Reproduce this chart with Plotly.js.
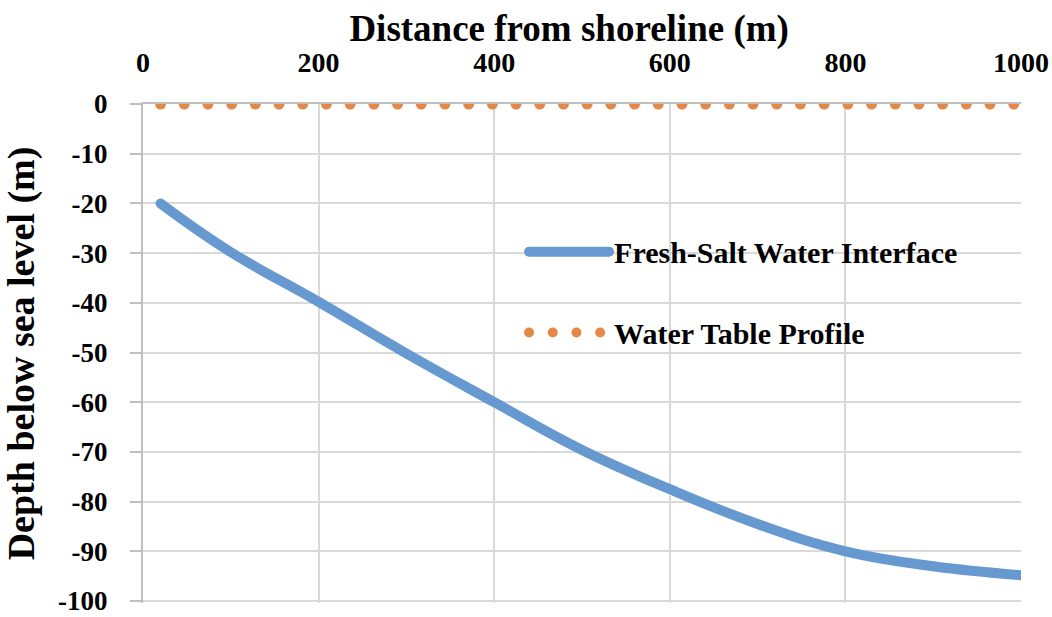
<!DOCTYPE html>
<html>
<head>
<meta charset="utf-8">
<script src="https://cdn.plot.ly/plotly-3.0.1.min.js"></script>
<style>
  html, body { margin: 0; padding: 0; background: #fff; }
  #chart { width: 1052px; height: 617px; }
  path.js-line { stroke-linecap: round; stroke-linejoin: round; }
</style>
</head>
<body>
<div id="chart"></div>
<script>
// Data
const distance = [20, 100, 200, 300, 400, 500, 600, 700, 800, 900, 1000];
const interfaceDepth = [-20, -29.8, -39.8, -50.2, -60, -69.6, -77.5, -84.5, -90, -93, -94.8];
const waterTableDepth = [0, 0, 0, 0, 0, 0, 0, 0, 0, 0, 0];
const seriesNames = ["Fresh-Salt Water Interface", "Water Table Profile"];
const xTicks = [0, 200, 400, 600, 800, 1000];
const yTicks = [0, -10, -20, -30, -40, -50, -60, -70, -80, -90, -100];
const xTitle = "Distance from shoreline (m)";
const yTitle = "Depth below sea level (m)";

const FONT = "Liberation Serif, Times New Roman, serif";

const traces = [
  {
    x: distance, y: interfaceDepth, name: seriesNames[0],
    type: "scatter", mode: "lines",
    line: { color: "#6699D0", width: 10, shape: "spline", smoothing: 1.2 },
    legend: "legend", hoverinfo: "skip"
  },
  {
    x: distance, y: waterTableDepth, name: seriesNames[1],
    type: "scatter", mode: "lines",
    line: { color: "#E38846", width: 11, dash: "0px,23.7px" },
    legend: "legend2", hoverinfo: "skip"
  }
];

const legendFont = { family: FONT, size: 30, color: "#000", weight: "bold" };

const layout = {
  width: 1052, height: 617,
  margin: { l: 143, r: 31, t: 104, b: 14, pad: 0 },
  paper_bgcolor: "#ffffff", plot_bgcolor: "#ffffff",
  showlegend: true,
  // top axis title (placed as in the reference, slightly left of the plot centre)
  title: {
    text: xTitle,
    font: { family: FONT, size: 37, color: "#000", weight: "bold" },
    xref: "container", yref: "container",
    x: 0.541, xanchor: "center", y: 0.955, yanchor: "middle"
  },
  xaxis: {
    side: "top",
    range: [0, 1000],
    tickvals: xTicks,
    ticktext: xTicks.map(String),
    tickfont: { family: FONT, size: 28, color: "#000", weight: "bold" },
    ticks: "", ticklabelstandoff: 19, ticklabeloverflow: "allow",
    showgrid: true, gridcolor: "#d9d9d9", gridwidth: 2,
    showline: true, linecolor: "#bfbfbf", linewidth: 2,
    zeroline: false,
    automargin: false, fixedrange: true
  },
  yaxis: {
    range: [-100.4, 0],
    tickvals: yTicks,
    ticktext: yTicks.map(String),
    tickfont: { family: FONT, size: 27, color: "#000", weight: "bold" },
    ticks: "outside", ticklen: 11, tickwidth: 2, tickcolor: "#bfbfbf",
    ticklabelstandoff: 17, ticklabeloverflow: "allow",
    showgrid: true, gridcolor: "#d9d9d9", gridwidth: 2,
    showline: true, linecolor: "#bfbfbf", linewidth: 2,
    zeroline: false,
    title: { text: yTitle, font: { family: FONT, size: 38, color: "#000", weight: "bold" }, standoff: 16 },
    automargin: false, fixedrange: true
  },
  legend: {
    x: 0.434, xanchor: "left", y: 0.704, yanchor: "middle",
    bgcolor: "rgba(0,0,0,0)", borderwidth: 0,
    font: legendFont, itemwidth: 80
  },
  legend2: {
    x: 0.434, xanchor: "left", y: 0.542, yanchor: "middle",
    bgcolor: "rgba(0,0,0,0)", borderwidth: 0,
    font: legendFont, itemwidth: 80
  }
};

Plotly.newPlot("chart", traces, layout, { displayModeBar: false, staticPlot: true });
</script>
</body>
</html>
